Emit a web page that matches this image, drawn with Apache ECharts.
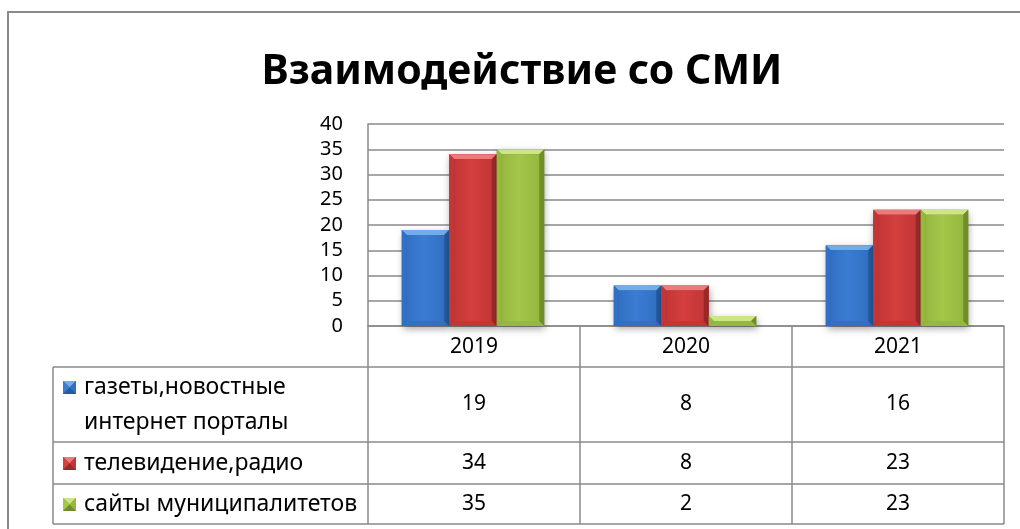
<!DOCTYPE html>
<html>
<head>
<meta charset="utf-8">
<script src="https://cdn.jsdelivr.net/npm/echarts@6/dist/echarts.min.js"></script>
<style>
  html, body { margin: 0; padding: 0; background: #fff; overflow: hidden; }
  #chart { width: 1020px; height: 529px; }
</style>
</head>
<body>
<div id="chart"></div>
<script>
// ---- data ----
const title = 'Взаимодействие со СМИ';
const years = ['2019', '2020', '2021'];
const seriesNames = [
  ['газеты,новостные', 'интернет порталы'],
  ['телевидение,радио'],
  ['сайты муниципалитетов']
];
const newsPortals = [19, 8, 16];
const tvRadio = [34, 8, 23];
const municipalSites = [35, 2, 23];
const yTicks = [0, 5, 10, 15, 20, 25, 30, 35, 40];

const seriesData = [newsPortals, tvRadio, municipalSites];

// palette per series: face, light bevel, mid edge, dark edge
const palette = [
  { face: '#3b7dd3', light: '#74abeb', mid: '#3170c4', dark: '#255a9f' },
  { face: '#d43f3f', light: '#ec7a7a', mid: '#c43636', dark: '#9a2828' },
  { face: '#a4c64a', light: '#cde585', mid: '#96b83f', dark: '#6f8d29' }
];

const FONT = '"Noto Sans", "DejaVu Sans", sans-serif';
const GRID = { left: 368, top: 124, right: 16, bottom: 203 };
const BAR_RATIO = 0.224;
const TABLE_FONT = 21;
const KEY_FONT = 23;

const chart = echarts.init(document.getElementById('chart'), null, { renderer: 'canvas' });

// beveled bar drawn from the value scale
function bevelBar(si) {
  return function (params, api) {
    const cat = api.value(0);
    const val = api.value(1);
    const band = api.size([1, 0])[0];
    const w = band * BAR_RATIO;
    const top = api.coord([cat, val]);
    const base = api.coord([cat, 0]);
    const x0 = top[0] + (si - 1.5) * w - 1;
    const x1 = x0 + w;
    const y0 = top[1];
    const y1 = base[1];
    const h = y1 - y0;
    const b = Math.min(5, h / 2);
    const c = palette[si];
    const faceGrad = new echarts.graphic.LinearGradient(0, 0, 1, 0, [
      { offset: 0, color: c.mid },
      { offset: 0.45, color: c.face },
      { offset: 1, color: c.mid }
    ]);
    return {
      type: 'group',
      children: [
        { type: 'rect', shape: { x: x0, y: y0, width: w, height: h },
          style: { fill: c.dark, shadowBlur: 7, shadowOffsetY: 3, shadowOffsetX: 1, shadowColor: 'rgba(0,0,0,0.35)' } },
        // top bevel
        { type: 'polygon', shape: { points: [[x0, y0], [x1, y0], [x1 - b, y0 + b], [x0 + b, y0 + b]] },
          style: { fill: c.light } },
        // left bevel
        { type: 'polygon', shape: { points: [[x0, y0], [x0 + b, y0 + b], [x0 + b, y1 - b], [x0, y1]] },
          style: { fill: c.mid } },
        // right bevel
        { type: 'polygon', shape: { points: [[x1, y0], [x1, y1], [x1 - b, y1 - b], [x1 - b, y0 + b]] },
          style: { fill: c.dark } },
        // bottom bevel
        { type: 'polygon', shape: { points: [[x0, y1], [x0 + b, y1 - b], [x1 - b, y1 - b], [x1, y1]] },
          style: { fill: c.mid } },
        // face
        { type: 'rect', shape: { x: x0 + b, y: y0 + b, width: Math.max(0, w - 2 * b), height: Math.max(0, h - 2 * b) },
          style: { fill: faceGrad } }
      ]
    };
  };
}

const option = {
  animation: false,
  backgroundColor: '#fff',
  title: {
    text: title,
    left: 517,
    textAlign: 'center',
    top: 47,
    textStyle: { fontFamily: FONT, fontWeight: 'bold', fontSize: 41, color: '#000' }
  },
  grid: GRID,
  xAxis: {
    type: 'category',
    data: years,
    axisTick: { show: false },
    axisLine: { lineStyle: { color: '#8a8a8a', width: 1.5 } },
    axisLabel: { fontFamily: FONT, fontSize: TABLE_FONT, color: '#000', margin: 10, lineHeight: 22 }
  },
  yAxis: {
    type: 'value',
    min: 0, max: 40, interval: 5,
    axisLine: { show: true, lineStyle: { color: '#8a8a8a', width: 1.5 } },
    axisTick: { show: false },
    axisLabel: { fontFamily: FONT, fontSize: 20, color: '#000', margin: 25,
      formatter: v => (yTicks.includes(v) ? String(v) : '') },
    splitLine: { lineStyle: { color: '#8a8a8a', width: 1.5 } }
  },
  series: seriesData.map((d, si) => ({
    type: 'custom',
    name: seriesNames[si].join(' '),
    renderItem: bevelBar(si),
    encode: { x: 0, y: 1 },
    data: d.map((v, i) => [i, v]),
    z: 3
  }))
};

chart.setOption(option);

// ---- data table under the plot ----
function buildTable() {
  const axisY = chart.convertToPixel({ yAxisIndex: 0 }, 0);
  const c0 = chart.convertToPixel({ xAxisIndex: 0 }, years[0]);
  const c1 = chart.convertToPixel({ xAxisIndex: 0 }, years[1]);
  const band = c1 - c0;
  const colX = years.map((_, i) => c0 - band / 2 + i * band);
  colX.push(c0 - band / 2 + years.length * band);
  const headerBottom = axisY + 41;
  const rowBottoms = [headerBottom + 75, headerBottom + 117, headerBottom + 157];
  const tableLeft = 53;
  const lineStyle = { stroke: '#8a8a8a', lineWidth: 1.5 };
  const els = [];

  // outer frame of the chart area
  els.push({ type: 'rect', shape: { x: 8, y: 12, width: 1040, height: 560 },
    style: { fill: 'none', stroke: '#8a8a8a', lineWidth: 2 }, z: 0 });

  // vertical column lines
  colX.forEach(x => {
    els.push({ type: 'line', shape: { x1: x, y1: axisY, x2: x, y2: rowBottoms[2] }, style: lineStyle, z: 5 });
  });
  els.push({ type: 'line', shape: { x1: tableLeft, y1: headerBottom, x2: tableLeft, y2: rowBottoms[2] }, style: lineStyle, z: 5 });
  // horizontal row lines
  [headerBottom].concat(rowBottoms).forEach(y => {
    els.push({ type: 'line', shape: { x1: tableLeft, y1: y, x2: colX[colX.length - 1], y2: y }, style: lineStyle, z: 5 });
  });

  const rowTops = [headerBottom, rowBottoms[0], rowBottoms[1]];
  seriesData.forEach((d, si) => {
    const top = rowTops[si];
    const bottom = rowBottoms[si];
    const mid = (top + bottom) / 2;
    const lines = seriesNames[si];
    const lh = 35;
    const firstY = mid - (lines.length - 1) * lh / 2;
    // series key marker
    const mx = 63, my = firstY - 6, ms = 13;
    const c = palette[si];
    els.push({ type: 'rect', shape: { x: mx, y: my, width: ms, height: ms }, style: { fill: c.dark }, z: 6 });
    els.push({ type: 'polygon', shape: { points: [[mx, my], [mx + ms, my], [mx + ms / 2, my + ms / 2]] }, style: { fill: c.light }, z: 7 });
    els.push({ type: 'polygon', shape: { points: [[mx, my], [mx + ms / 2, my + ms / 2], [mx, my + ms]] }, style: { fill: c.face }, z: 7 });
    els.push({ type: 'polygon', shape: { points: [[mx + ms, my], [mx + ms, my + ms], [mx + ms / 2, my + ms / 2]] }, style: { fill: c.mid }, z: 7 });
    lines.forEach((t, li) => {
      els.push({ type: 'text', x: 84, y: firstY + li * lh,
        style: { text: t, fontFamily: FONT, fontSize: KEY_FONT, fill: '#000', textVerticalAlign: 'middle', textAlign: 'left' }, z: 6 });
    });
    d.forEach((v, ci) => {
      els.push({ type: 'text', x: (colX[ci] + colX[ci + 1]) / 2, y: mid,
        style: { text: String(v), fontFamily: FONT, fontSize: TABLE_FONT, fill: '#000', textAlign: 'center', textVerticalAlign: 'middle' }, z: 6 });
    });
  });

  chart.setOption({ graphic: { elements: els } });
}
buildTable();
</script>
</body>
</html>
